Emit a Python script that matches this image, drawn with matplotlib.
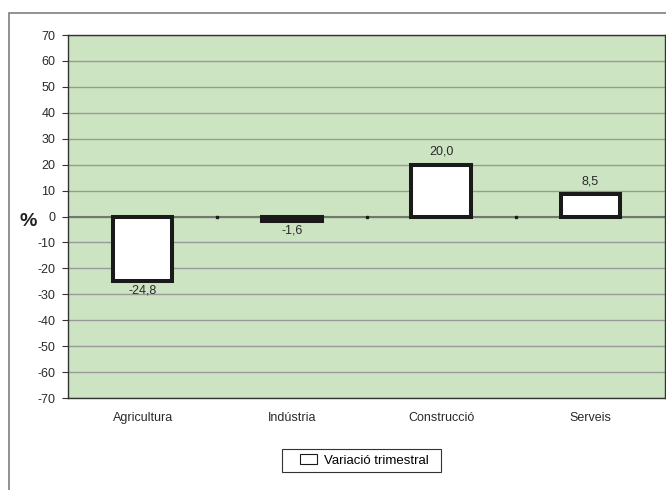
import numpy as np
import matplotlib
matplotlib.use("Agg")
import matplotlib.pyplot as plt
from matplotlib.patches import Rectangle

plt.rcParams['font.family'] = ['Liberation Sans', 'DejaVu Sans']

sectors = ['Agricultura', 'Indústria', 'Construcció', 'Serveis']
variacio = [-24.8, -1.6, 20.0, 8.5]
value_labels = ['-24,8', '-1,6', '20,0', '8,5']
yticks = np.arange(-70, 71, 10)

fig = plt.figure(figsize=(6.66, 4.9), dpi=100)
# outer frame of the chart
fig.patches.append(Rectangle((9 / 666, -0.05), 1.2, 1 - 13 / 490 + 0.05,
                             transform=fig.transFigure, fill=False,
                             edgecolor='#7f7f7f', linewidth=1.2))

ax = fig.add_axes([68 / 666, 1 - 398 / 490, 597 / 666, 363 / 490])
ax.set_facecolor('#cce4c2')

x = np.arange(len(sectors))
bars = ax.bar(x, variacio, width=0.4, color='white', edgecolor='#1a1a1a',
              linewidth=2.9, zorder=3, label='Variació trimestral')

ax.set_xlim(-0.5, len(sectors) - 0.5)
ax.set_ylim(-70, 70)
ax.set_yticks(yticks)
ax.set_yticklabels([str(v) for v in yticks], fontsize=9, color='#2a2a2a')
ax.yaxis.grid(True, color='#999999', linewidth=1.0)
ax.set_axisbelow(True)
ax.axhline(0, color='#6f7a6a', linewidth=1.5, zorder=2)
ax.tick_params(axis='y', length=4, color='#333333', pad=5)

ax.set_xticks(x)
ax.set_xticklabels(sectors, fontsize=9, color='#2a2a2a')
ax.tick_params(axis='x', length=0, pad=10)

# small tick marks on the zero line between categories
ax.plot(x[:-1] + 0.5, np.zeros(len(x) - 1), linestyle='none', marker='s',
        markersize=2, color='#1a1a1a', zorder=4)

for spine in ax.spines.values():
    spine.set_color('#333333')
    spine.set_linewidth(1.0)

for xi, v, lab in zip(x, variacio, value_labels):
    if v >= 0:
        ax.annotate(lab, (xi, v), xytext=(0, 5), textcoords='offset points',
                    ha='center', va='bottom', fontsize=9, color='#2a2a2a')
    else:
        ax.annotate(lab, (xi, v), xytext=(0, -3), textcoords='offset points',
                    ha='center', va='top', fontsize=9, color='#2a2a2a')

fig.text(28 / 666, 1 - 222 / 490, '%', fontsize=14, fontweight='bold',
         ha='center', va='center', color='#222222')

# legend without its own frame, boxed by a wider rectangle
leg = fig.legend(handles=[bars], labels=['Variació trimestral'],
                 loc='center', bbox_to_anchor=(364 / 666, 1 - 460.5 / 490),
                 fontsize=9.5, frameon=False,
                 handlelength=1.3, handleheight=0.8, borderpad=0.45,
                 handletextpad=0.5, borderaxespad=0)
for h in leg.legend_handles:
    h.set_linewidth(0.8)
fig.patches.append(Rectangle((282 / 666, 1 - 472 / 490), 159 / 666, 23 / 490,
                             transform=fig.transFigure, fill=False,
                             edgecolor='#333333', linewidth=0.8))

fig.savefig('out.png', dpi=100)
